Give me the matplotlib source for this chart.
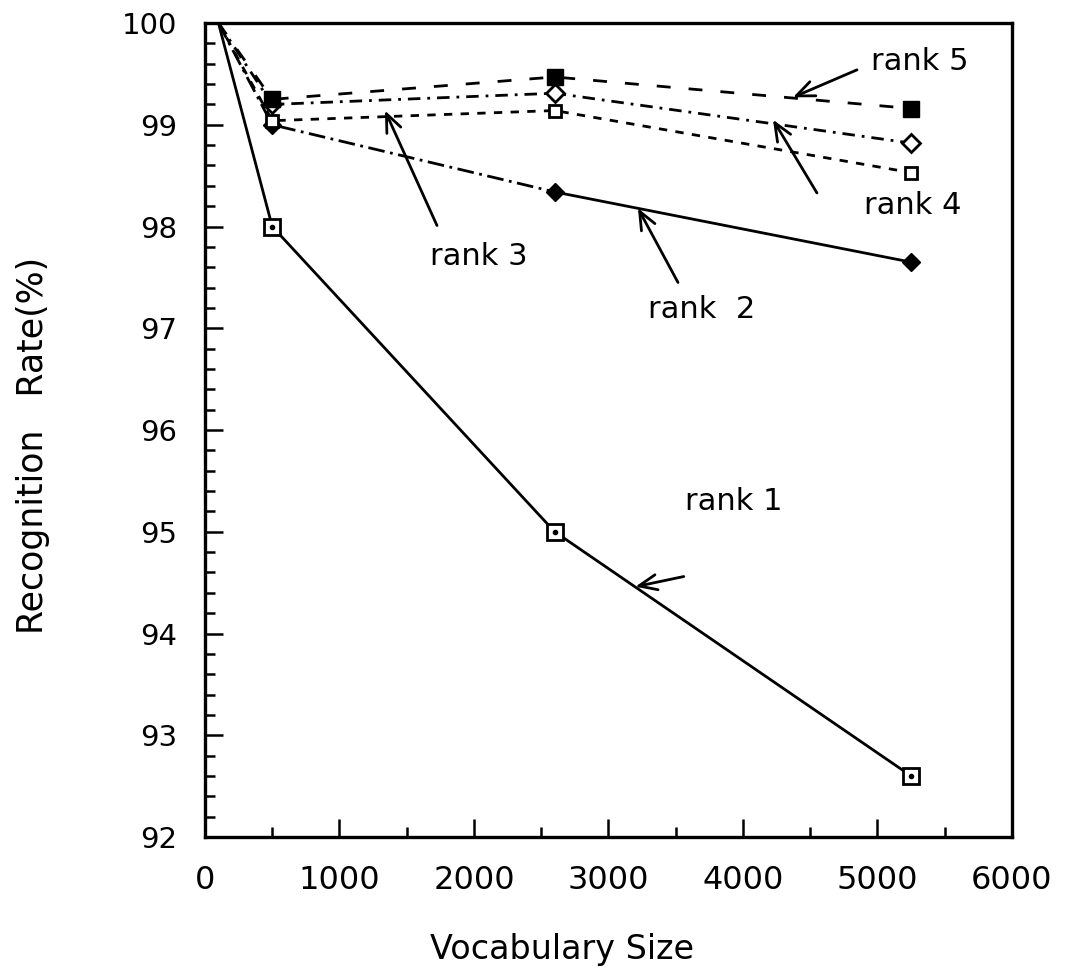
import matplotlib.pyplot as plt
from matplotlib.ticker import MultipleLocator

plt.rcParams['font.family'] = 'DejaVu Sans'
plt.rcParams['lines.scale_dashes'] = False

# data
vocab_size = [100, 500, 2600, 5250]
rank1 = [100, 98.0, 95.0, 92.6]
rank2 = [100, 99.0, 98.34, 97.65]
rank3 = [100, 99.04, 99.14, 98.53]
rank4 = [100, 99.2, 99.31, 98.82]
rank5 = [100, 99.25, 99.47, 99.16]

x_ticks = [0, 1000, 2000, 3000, 4000, 5000, 6000]
y_ticks = [92, 93, 94, 95, 96, 97, 98, 99, 100]

# label text, text centre, arrow tip, arrow tail
annotations = [
    ('rank 1', (3930, 95.3), (3200, 94.46), (3560, 94.56)),
    ('rank  2', (3695, 97.18), (3219, 98.18), (3517, 97.45)),
    ('rank 3', (2037, 97.71), (1338, 99.14), (1725, 98.01)),
    ('rank 4', (5264, 98.21), (4223, 99.05), (4550, 98.33)),
    ('rank 5', (5316, 99.62), (4372, 99.27), (4848, 99.54)),
]

fig = plt.figure(figsize=(10.66, 9.72), dpi=100)
ax = fig.add_axes([0.1923, 0.1389, 0.757, 0.8374])

lw = 2.0
# rank 1 - solid, open squares with a dot
ax.plot(vocab_size, rank1, color='black', lw=lw, marker='s', ms=12,
        mfc='white', mec='black', mew=2, markevery=[1, 2, 3])
ax.plot(vocab_size[1:], rank1[1:], ls='none', marker='o', ms=3, color='black')

# rank 2 - dash-dot then solid, filled diamonds
ax.plot(vocab_size[:3], rank2[:3], color='black', lw=lw, dashes=(12, 4, 2, 4))
ax.plot(vocab_size[2:], rank2[2:], color='black', lw=lw)
ax.plot(vocab_size[1:], rank2[1:], ls='none', marker='D', ms=9, color='black')

# rank 3 - short dashes, open squares
ax.plot(vocab_size, rank3, color='black', lw=lw, dashes=(6, 6),
        marker='s', ms=9, mfc='white', mec='black', mew=2, markevery=[1, 2, 3])

# rank 4 - dash-dot, open diamonds
ax.plot(vocab_size, rank4, color='black', lw=lw, dashes=(9, 5, 2, 5),
        marker='D', ms=9, mfc='white', mec='black', mew=2, markevery=[1, 2, 3])

# rank 5 - long dashes, filled squares
ax.plot(vocab_size, rank5, color='black', lw=lw, dashes=(10, 13),
        marker='s', ms=11, mfc='black', mec='black', markevery=[1, 2, 3])

for text, txt_pos, tip, tail in annotations:
    ax.annotate('', xy=tip, xytext=tail,
                arrowprops=dict(arrowstyle='->,head_length=1.3,head_width=0.55',
                                lw=2.0, color='black', shrinkA=0, shrinkB=0))
    ax.text(txt_pos[0], txt_pos[1], text, fontsize=22, ha='center', va='center')

ax.set_xlim(0, 6000)
ax.set_ylim(92, 100)
ax.set_xticks(x_ticks)
ax.set_yticks(y_ticks)
ax.xaxis.set_minor_locator(MultipleLocator(500))
ax.yaxis.set_minor_locator(MultipleLocator(0.2))

ax.tick_params(axis='both', which='both', direction='in', top=False, right=False)
ax.tick_params(axis='both', which='major', length=13, width=1.8)
ax.tick_params(axis='both', which='minor', length=7, width=1.8)
ax.tick_params(axis='x', labelsize=23, pad=20)
ax.tick_params(axis='y', labelsize=21, pad=20)

for spine in ax.spines.values():
    spine.set_linewidth(2.4)

ax.set_xlabel('Vocabulary Size', fontsize=24)
ax.xaxis.set_label_coords(0.442, -0.118)
ax.set_ylabel('Recognition   Rate(%)', fontsize=25)
ax.yaxis.set_label_coords(-0.192, 0.4816)

fig.savefig('out.png', dpi=100)
